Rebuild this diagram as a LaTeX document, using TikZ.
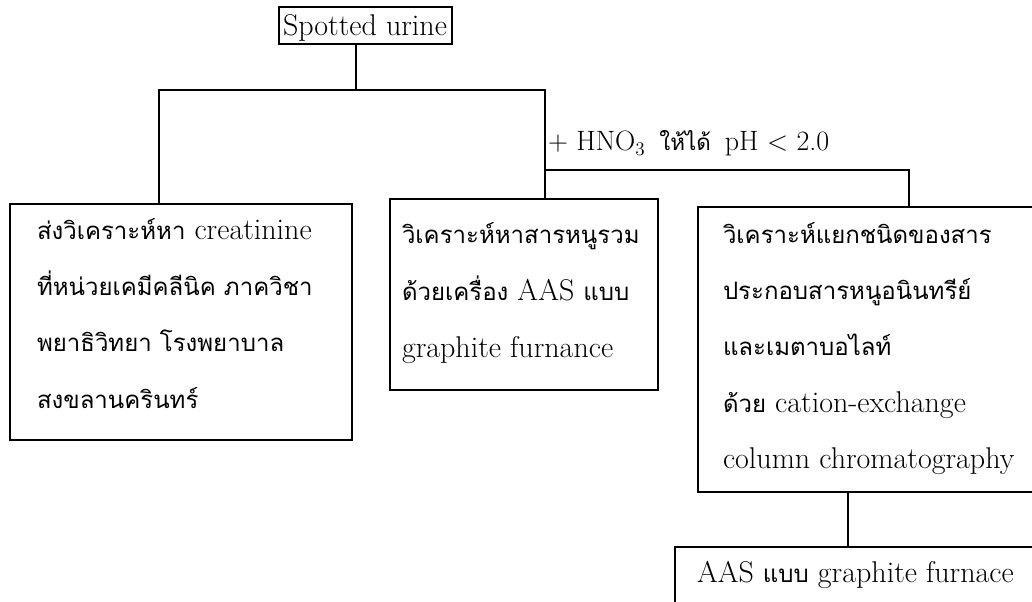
\documentclass[tikz,border=0pt]{standalone}
\usepackage{fontspec}
\usetikzlibrary{fit}
\newfontfamily\thaifont[Script=Thai,Scale=0.80]{Loma}
\newcommand\tht[1]{{\thaifont #1}}
\tikzset{
  box/.style={draw, line width=1.3pt, inner sep=0pt, outer sep=0pt},
  txt/.style={inner sep=0pt, outer sep=0pt, anchor=base west, font=\fontsize{22.5}{27}\selectfont},
  lbl/.style={inner sep=0pt, outer sep=0pt, anchor=base west, font=\fontsize{21}{25}\selectfont},
  conn/.style={draw, line width=1.2pt},
}
\begin{document}
\begin{tikzpicture}[x=0.75pt, y=-0.75pt]
\clip (0,0) rectangle (1032,602);
\useasboundingbox (0,0) rectangle (1032,602);
% boxes
\node[box, fit={(279,7) (452,44)}] (top) {};
\node[box, fit={(10,204) (352,440)}] (left) {};
\node[box, fit={(390,199) (658,390)}] (mid) {};
\node[box, fit={(698,207) (1060,492)}] (right) {};
\node[box, fit={(675,547) (1060,640)}] (bottom) {};
% texts
\node[txt] (t0) at (283,36) {Spotted urine};
\node[lbl] (h0) at (548,151) {$+$ HNO$_3$\enspace\tht{ให้ได้}\enspace pH $<$ 2.0};
\node[txt] (a1) at (37,240) {\tht{ส่งวิเคราะห์หา} creatinine};
\node[txt] (a2) at (37,296) {\tht{ที่หน่วยเคมีคลีนิค ภาควิชา}};
\node[txt] (a3) at (37,352) {\tht{พยาธิวิทยา โรงพยาบาล}};
\node[txt] (a4) at (37,408) {\tht{สงขลานครินทร์}};
\node[txt] (b1) at (402,244) {\tht{วิเคราะห์หาสารหนูรวม}};
\node[txt] (b2) at (402,301) {\tht{ด้วยเครื่อง} AAS \tht{แบบ}};
\node[txt] (b3) at (402,358) {graphite furnance};
\node[txt] (c1) at (723,244) {\tht{วิเคราะห์แยกชนิดของสาร}};
\node[txt] (c2) at (723,300) {\tht{ประกอบสารหนูอนินทรีย์}};
\node[txt] (c3) at (723,356) {\tht{และเมตาบอไลท์}};
\node[txt] (c4) at (723,412) {\tht{ด้วย} cation-exchange};
\node[txt] (c5) at (723,468) {column chromatography};
\node[txt] (d1) at (697,582) {AAS \tht{แบบ} graphite furnace};
% connectors
\coordinate (j0) at (356,90);
\coordinate (jl) at (159,90);
\coordinate (jm) at (545,90);
\coordinate (jh) at (545,170);
\coordinate (jr) at (909,170);
\coordinate (jb) at (848,520);
\draw[conn] (top.south -| j0) -- (j0);
\draw[conn] (left.north -| jl) -- (jl) -- (jm) -- (mid.north -| jm);
\draw[conn] (jh) -- (jr) -- (right.north -| jr);
\draw[conn] (right.south -| jb) -- (bottom.north -| jb);
\end{tikzpicture}
\end{document}
